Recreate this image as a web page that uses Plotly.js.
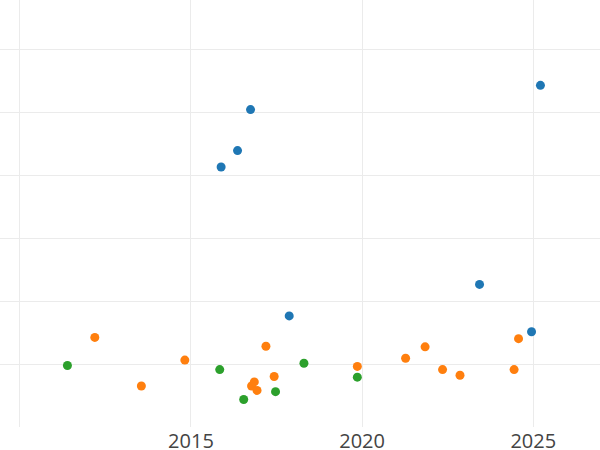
<!DOCTYPE html>
<html>
<head>
<meta charset="utf-8">
<script src="https://cdn.plot.ly/plotly-3.0.1.min.js"></script>
<style>html,body{margin:0;padding:0;background:#fff;}#chart{width:600px;height:450px;}</style>
</head>
<body>
<div id="chart"></div>
<script>
// Series A (blue)
const blueX = [2015.88, 2016.36, 2016.74, 2017.87, 2023.43, 2024.95, 2025.21];
const blueY = [41.3, 43.9, 50.4, 17.7, 22.7, 15.2, 54.25];
// Series B (orange)
const orangeX = [2012.19, 2013.55, 2014.82, 2016.77, 2016.85, 2016.93, 2017.19, 2017.43, 2019.86, 2021.27, 2021.84, 2022.35, 2022.86, 2024.44, 2024.57];
const orangeY = [14.3, 6.6, 10.7, 6.6, 7.25, 5.9, 12.9, 8.1, 9.7, 11.0, 12.8, 9.2, 8.3, 9.2, 14.1];
// Series C (green)
const greenX = [2011.39, 2015.84, 2016.54, 2017.47, 2018.30, 2019.86];
const greenY = [9.85, 9.2, 4.45, 5.7, 10.2, 8.0];
const xTicks = [2010, 2015, 2020, 2025];

function tr(x, y, color) {
  return {x: x, y: y, type: 'scatter', mode: 'markers',
    marker: {color: color, size: 9}, showlegend: false, hoverinfo: 'x+y'};
}
const data = [tr(blueX, blueY, '#1f77b4'), tr(orangeX, orangeY, '#ff7f0e'), tr(greenX, greenY, '#2ca02c')];
const layout = {
  width: 600, height: 450,
  margin: {l: 0, r: 0, t: 0, b: 23, pad: 0},
  paper_bgcolor: '#fff', plot_bgcolor: '#fff',
  font: {family: '"Open Sans", sans-serif', color: '#444'},
  showlegend: false,
  xaxis: {range: [2009.42, 2026.95], tickvals: xTicks, ticktext: xTicks.map(String),
    showgrid: true, gridcolor: '#ebebeb', gridwidth: 1, zeroline: false, showline: false,
    ticks: '', tickfont: {size: 20, color: '#444'}},
  yaxis: {range: [0.1, 67.77], dtick: 10, tick0: 0, showgrid: true, gridcolor: '#ebebeb', gridwidth: 1,
    zeroline: false, showline: false, ticks: '', showticklabels: false}
};
Plotly.newPlot('chart', data, layout, {displayModeBar: false, staticPlot: true});
</script>
</body>
</html>
